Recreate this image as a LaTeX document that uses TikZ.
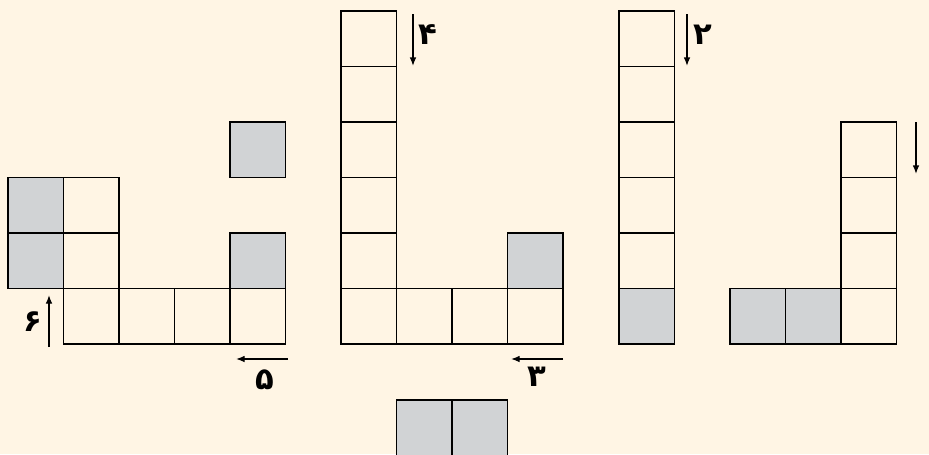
\documentclass[tikz,border=0pt]{standalone}
\usepackage{fontspec}
\usetikzlibrary{arrows.meta,positioning}
\newfontfamily\arabicfont[Script=Arabic]{DejaVu Sans}
\definecolor{pzbg}{RGB}{255,245,228}
\definecolor{pzgray}{RGB}{209,211,213}

\begin{document}
\begin{tikzpicture}[x=0.75pt,y=-0.75pt,>={Latex[length=6.5pt,width=5pt]},
    cell/.style={draw,line width=1.1pt,fill=pzbg,minimum size=41.625pt,inner sep=0pt,outer sep=0pt},
    shaded/.style={cell,fill=pzgray},
    num/.style={font=\arabicfont\bfseries\fontsize{23}{25}\selectfont,inner sep=0pt},
    move/.style={->,line width=1pt}]
  \useasboundingbox (0,0) rectangle (929,454);
  \fill[pzbg] (0,0) rectangle (929,454);
  % first shape
  \node[cell] (ab1) at (91.25,316.25) {};
  \node[cell,right=0pt of ab1] (ab2) {};
  \node[cell,right=0pt of ab2] (ab3) {};
  \node[cell,right=0pt of ab3] (ab4) {};
  \node[cell,above=0pt of ab1] (am1) {};
  \node[cell,above=0pt of am1] (at1) {};
  \node[shaded,left=0pt of am1] (am0) {};
  \node[shaded,left=0pt of at1] (at0) {};
  \node[shaded,above=0pt of ab4] (am4) {};
  \node[shaded,above=41.625pt of am4] (ax4) {};
  % second shape
  \node[cell] (bc1) at (368.75,316.25) {};
  \node[cell,above=0pt of bc1] (bc2) {};
  \node[cell,above=0pt of bc2] (bc3) {};
  \node[cell,above=0pt of bc3] (bc4) {};
  \node[cell,above=0pt of bc4] (bc5) {};
  \node[cell,above=0pt of bc5] (bc6) {};
  \node[cell,right=0pt of bc1] (bb2) {};
  \node[cell,right=0pt of bb2] (bb3) {};
  \node[cell,right=0pt of bb3] (bb4) {};
  \node[shaded,above=0pt of bb4] (bm4) {};
  % third shape
  \node[shaded] (cc1) at (646.75,316.25) {};
  \node[cell,above=0pt of cc1] (cc2) {};
  \node[cell,above=0pt of cc2] (cc3) {};
  \node[cell,above=0pt of cc3] (cc4) {};
  \node[cell,above=0pt of cc4] (cc5) {};
  \node[cell,above=0pt of cc5] (cc6) {};
  % fourth shape
  \node[shaded] (db1) at (757.75,316.25) {};
  \node[shaded,right=0pt of db1] (db2) {};
  \node[cell,right=0pt of db2] (db3) {};
  \node[cell,above=0pt of db3] (dc2) {};
  \node[cell,above=0pt of dc2] (dc3) {};
  \node[cell,above=0pt of dc3] (dc4) {};
  % loose pair at the bottom
  \node[shaded] (ee1) at (424.25,427.75) {};
  \node[shaded,right=0pt of ee1] (ee2) {};
  % moves
  \coordinate (s6) at (49,347);  \coordinate (e6) at (49,295);
  \coordinate (s5) at (288,359); \coordinate (e5) at (236,359);
  \coordinate (s4) at (413,14);  \coordinate (e4) at (413,66);
  \coordinate (s3) at (563,359); \coordinate (e3) at (511,359);
  \coordinate (s2) at (687,14);  \coordinate (e2) at (687,66);
  \coordinate (s1) at (916,122); \coordinate (e1) at (916,174);
  \draw[move] (s6)--(e6); \draw[move] (s5)--(e5);
  \draw[move] (s4)--(e4); \draw[move] (s3)--(e3);
  \draw[move] (s2)--(e2); \draw[move] (s1)--(e1);
  \node[num] (n6) at (33,322) {۶};
  \node[num] (n5) at (265,380) {۵};
  \node[num] (n4) at (428,35) {۴};
  \node[num] (n3) at (537,377) {۳};
  \node[num] (n2) at (703,35) {۲};
  \node[num] (n1) at (935,140) {۱};
\end{tikzpicture}
\end{document}
